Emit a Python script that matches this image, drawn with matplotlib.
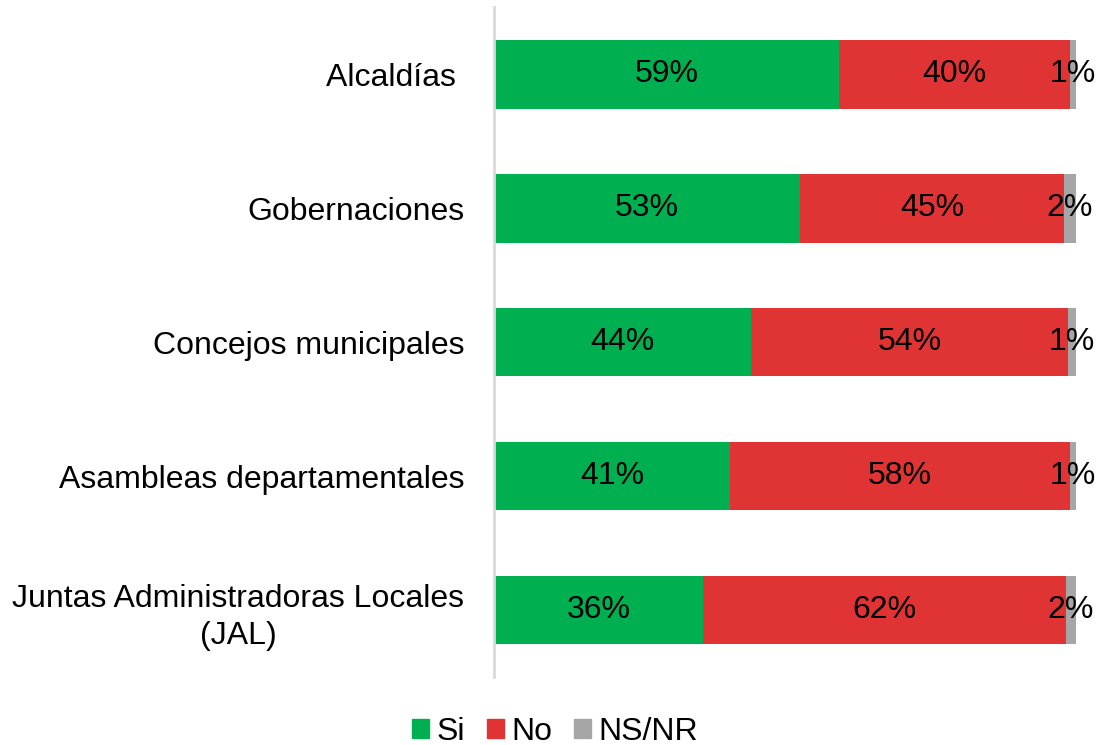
import matplotlib.pyplot as plt
from matplotlib.patches import Patch

plt.rcParams['font.family'] = ['Liberation Sans', 'DejaVu Sans']

categorias = [
    "Alcaldías ",
    "Gobernaciones",
    "Concejos municipales",
    "Asambleas departamentales",
    "Juntas Administradoras Locales\n(JAL)",
]
si = [59.3, 52.6, 44.2, 40.6, 36.0]
no = [39.6, 45.3, 54.4, 58.3, 62.2]
nsnr = [1.1, 2.1, 1.4, 1.1, 1.8]
series = ["Si", "No", "NS/NR"]
colores = ["#00B050", "#E03333", "#A6A6A6"]

fig = plt.figure(figsize=(10.97, 7.45), dpi=100)
ax = fig.add_axes([0.450, 0.091, 0.531, 0.899])

y = list(range(len(categorias)))
izq = [0] * len(categorias)
for vals, color in zip([si, no, nsnr], colores):
    ax.barh(y, vals, left=izq, color=color, height=0.51)
    for i, v in enumerate(vals):
        ax.text(izq[i] + v / 2, i, f"{v:.0f}%", ha='center', va='center',
                fontsize=23, color='black')
    izq = [a + b for a, b in zip(izq, vals)]

ax.set_xlim(0, 100)
ax.set_ylim(len(categorias) - 0.5, -0.5)
ax.set_yticks(y)
ax.set_yticklabels(categorias, fontsize=23, ha='right', linespacing=1.3,
                   multialignment='center')
ax.tick_params(axis='y', length=0, pad=21)
ax.set_xticks([])
for s in ['top', 'right', 'bottom']:
    ax.spines[s].set_visible(False)
ax.spines['left'].set_color('#D9D9D9')
ax.spines['left'].set_linewidth(2)

handles = [Patch(color=c, label=s) for s, c in zip(series, colores)]
fig.legend(handles=handles, loc='center', bbox_to_anchor=(0.506, 0.018),
           ncol=3, frameon=False, fontsize=23, handlelength=0.53,
           handleheight=0.53, handletextpad=0.22, columnspacing=0.7)

fig.savefig("out.png", dpi=100)
